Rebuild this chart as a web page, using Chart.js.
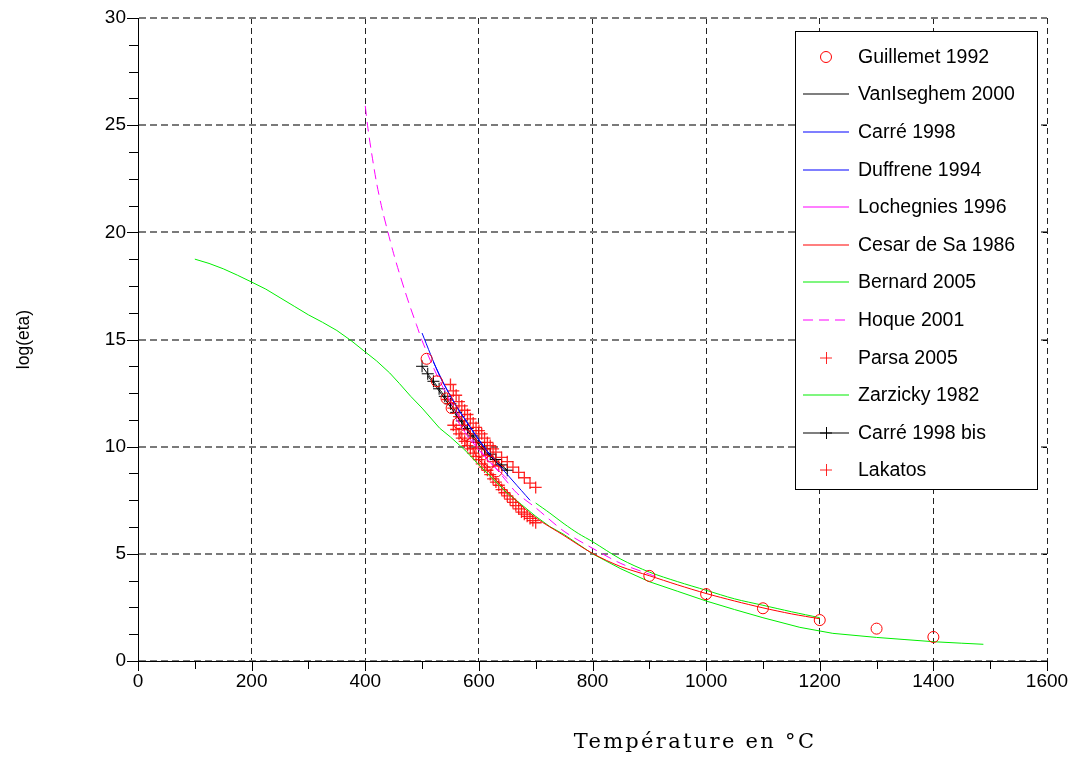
<!DOCTYPE html>
<html><head><meta charset="utf-8">
<script src="https://cdn.jsdelivr.net/npm/chart.js@4.4.1/dist/chart.umd.min.js"></script>
<style>html,body{margin:0;padding:0;background:#fff;}#c{display:block;}</style>
</head><body>
<canvas id="c" width="1070" height="760"></canvas>
<script>
// ---- data ----
const guillemetT = [508,526,543,552,564,576,587,602,620,631,900,1000,1100,1200,1300,1400];
const guillemetY = [14.1,13.05,12.25,11.8,11.1,10.55,10.15,9.75,9.3,8.85,3.97,3.12,2.46,1.91,1.51,1.12];

const vanIseghemT = [510,530,550,570,590,610,630,650];
const vanIseghemY = [13.3,12.6,11.85,11.1,10.4,9.8,9.3,8.85];

const carreT = [500,515,530,545,560,575,590,605,620,640,660,675,690];
const carreY = [15.3,14.3,13.35,12.6,11.9,11.3,10.7,10.15,9.6,9.0,8.4,7.95,7.5];

const duffreneT = [520,540,560,580,600,620,640];
const duffreneY = [13.95,12.85,11.9,11.1,10.3,9.6,9.0];

const lochegniesT = [560,580,600,620,640,650];
const lochegniesY = [11.3,10.5,9.85,9.25,8.75,8.5];

const cesarT = [600,625,650,675,700,750,800,850,900,950,1000,1050,1100,1150,1200];
const cesarY = [9.4,8.6,7.9,7.25,6.68,5.85,5.02,4.4,3.98,3.55,3.15,2.8,2.48,2.2,1.97];

const bernardT = [100,125,150,175,200,225,250,275,300,325,350,375,400,420,443,460,480,500,531,550,575,602,625,649,675,700,725,750,800,850,900,950,1000,1050,1100,1165,1223,1300,1350,1400,1450,1488];
const bernardY = [18.75,18.55,18.3,18.0,17.68,17.35,16.95,16.55,16.15,15.8,15.42,14.95,14.42,14.0,13.44,12.95,12.35,11.8,10.86,10.45,9.85,9.1,8.5,7.85,7.3,6.75,6.27,5.9,5.0,4.3,3.7,3.25,2.8,2.4,2.02,1.57,1.29,1.1,1.0,0.9,0.83,0.78];

const hoqueT = [400,404,410,420,430,440,450,460,470,480,490,500,525,550,575,600,620,650,667,700,750,800,850,900,920];
const hoqueY = [25.9,25.0,23.9,22.3,21.05,20.0,19.0,18.1,17.25,16.45,15.7,14.95,13.4,12.1,10.95,9.9,9.3,8.35,7.83,7.15,6.05,5.26,4.55,4.05,3.86];

const parsaT = [550,555,560,565,570,575,580,585,590,595,600,605,610,615,620,625,630,640,650,660,670,680,690,700,
                545,555,565,575,585,595,605,615,625,635];
const parsaY = [12.9,12.6,12.4,12.1,11.9,11.7,11.5,11.3,11.1,10.9,10.75,10.6,10.4,10.2,10.05,9.9,9.75,9.5,9.3,9.05,8.8,8.55,8.3,8.1,
                12.2,11.8,11.4,11.0,10.6,10.2,9.9,9.6,9.3,9.1];

const zarzickyT = [700,725,750,775,800,850,900,950,1000,1050,1100,1150,1200];
const zarzickyY = [7.37,6.9,6.4,5.95,5.57,4.75,4.15,3.7,3.3,2.9,2.6,2.3,2.02];

const carreBisT = [500,510,520,530,540,550,560,570,580,590,600,610,620,630,640,650];
const carreBisY = [13.75,13.4,13.05,12.7,12.35,12.0,11.6,11.2,10.85,10.5,10.2,9.9,9.65,9.4,9.15,8.9];

const lakatosT = [555,560,565,570,575,580,585,590,595,600,605,610,615,620,625,630,635,640,645,650,655,660,665,670,675,680,685,690,695,700];
const lakatosY = [11.0,10.8,10.6,10.4,10.25,10.05,9.9,9.7,9.55,9.4,9.2,9.05,8.9,8.7,8.5,8.35,8.2,8.0,7.85,7.7,7.55,7.4,7.25,7.1,6.95,6.85,6.75,6.65,6.55,6.45];

const xTickLabels = ['0','200','400','600','800','1000','1200','1400','1600'];
const yTickLabels = ['0','5','10','15','20','25','30'];

const legendLabels = ['Guillemet 1992','VanIseghem 2000','Carré 1998','Duffrene 1994','Lochegnies 1996','Cesar de Sa 1986','Bernard 2005','Hoque 2001','Parsa 2005','Zarzicky 1982','Carré 1998 bis','Lakatos'];

// ---- helpers ----
const pts = (T, Y) => T.map((t, i) => ({x: t, y: Y[i]}));
const RED = '#ff0000', BLUE = '#0000ff', MAG = '#ff00ff', GREEN = '#00ee00', BLACK = '#000000';

function lineDs(label, T, Y, color, extra) {
  return Object.assign({label, data: pts(T, Y), showLine: true, borderColor: color, backgroundColor: color,
    borderWidth: 1, pointRadius: 0, fill: false, tension: 0.3}, extra || {});
}
function markDs(label, T, Y, color, style, r, w) {
  return {label, data: pts(T, Y), showLine: false, borderColor: color, backgroundColor: 'rgba(0,0,0,0)',
    pointStyle: style, pointRadius: r, borderWidth: w || 1, pointBorderWidth: w || 1};
}

const datasets = [
  markDs(legendLabels[0], guillemetT, guillemetY, RED, 'circle', 5.5),
  lineDs(legendLabels[1], vanIseghemT, vanIseghemY, BLACK),
  lineDs(legendLabels[2], carreT, carreY, BLUE),
  lineDs(legendLabels[3], duffreneT, duffreneY, BLUE),
  lineDs(legendLabels[4], lochegniesT, lochegniesY, MAG),
  lineDs(legendLabels[5], cesarT, cesarY, RED),
  lineDs(legendLabels[6], bernardT, bernardY, GREEN, {tension: 0}),
  lineDs(legendLabels[7], hoqueT, hoqueY, MAG, {borderDash: [10, 6]}),
  markDs(legendLabels[8], parsaT, parsaY, 'rgba(255,0,0,0.85)', 'cross', 6, 1.3),
  lineDs(legendLabels[9], zarzickyT, zarzickyY, GREEN),
  lineDs(legendLabels[10], carreBisT, carreBisY, BLACK, {pointStyle: 'cross', pointRadius: 6, pointBorderWidth: 1, tension: 0.2}),
  markDs(legendLabels[11], lakatosT, lakatosY, 'rgba(255,0,0,0.85)', 'cross', 6, 1.3)
];

const FONT = '"Liberation Sans", Arial, sans-serif';

const tickMarks = {
  id: 'tickMarks',
  afterDraw(chart) {
    const {ctx, chartArea: a, scales: {x, y}} = chart;
    ctx.save();
    ctx.strokeStyle = '#000'; ctx.lineWidth = 1;
    ctx.beginPath();
    for (let v = x.min; v <= x.max; v += 100) {
      const px = Math.round(x.getPixelForValue(v)) + 0.5;
      const L = (v % 200 === 0) ? 10 : 8;
      ctx.moveTo(px, a.bottom); ctx.lineTo(px, a.bottom + L);
    }
    for (let v = y.min; v <= y.max + 1e-9; v += 1.25) {
      const py = Math.round(y.getPixelForValue(v)) + 0.5;
      const L = (Math.abs(v % 5) < 1e-9) ? 11 : 9;
      ctx.moveTo(a.left, py); ctx.lineTo(a.left - L, py);
    }
    for (let v = 5; v < y.max; v += 5) {
      const py = Math.round(y.getPixelForValue(v)) + 0.5;
      ctx.moveTo(a.right, py); ctx.lineTo(a.right - 4, py);
    }
    ctx.stroke();
    ctx.restore();
  }
};

const boxLegend = {
  id: 'boxLegend',
  afterDraw(chart) {
    const ctx = chart.ctx;
    const bx = 795, by = 31, bw = 242, bh = 458;
    ctx.save();
    ctx.fillStyle = '#fff';
    ctx.fillRect(bx, by, bw, bh);
    ctx.strokeStyle = '#000'; ctx.lineWidth = 1;
    ctx.strokeRect(bx + 0.5, by + 0.5, bw, bh);
    ctx.font = '19.5px ' + FONT;
    ctx.textBaseline = 'middle';
    ctx.textAlign = 'left';
    chart.data.datasets.forEach((ds, i) => {
      const cy = Math.round(56.7 + i * 37.6);
      const x0 = 803, x1 = 849, xc = 826;
      ctx.strokeStyle = ds.borderColor; ctx.lineWidth = 1.2;
      if (ds.showLine) {
        ctx.setLineDash(ds.borderDash || []);
        ctx.beginPath(); ctx.moveTo(x0, cy); ctx.lineTo(x1, cy); ctx.stroke();
        ctx.setLineDash([]);
      }
      ctx.lineWidth = 1;
      if (ds.pointStyle === 'circle') {
        ctx.beginPath(); ctx.arc(xc, cy, 5.5, 0, Math.PI * 2); ctx.stroke();
      } else if (ds.pointStyle === 'cross') {
        ctx.beginPath();
        ctx.moveTo(xc - 6, cy); ctx.lineTo(xc + 6, cy);
        ctx.moveTo(xc + 0.5, cy - 6); ctx.lineTo(xc + 0.5, cy + 6);
        ctx.stroke();
      }
      ctx.fillStyle = '#000';
      ctx.fillText(ds.label, 858, cy + 1);
    });
    ctx.restore();
  }
};

const xTitle = {
  id: 'xTitle',
  afterDraw(chart) {
    const ctx = chart.ctx;
    ctx.save();
    ctx.font = '21px "DejaVu Serif", "Liberation Serif", serif';
    try { ctx.letterSpacing = '2.3px'; } catch (e) {}
    ctx.fillStyle = '#000';
    ctx.textAlign = 'center';
    ctx.textBaseline = 'alphabetic';
    ctx.fillText('Température en °C', 695, 748);
    ctx.restore();
  }
};

new Chart(document.getElementById('c'), {
  type: 'scatter',
  data: {datasets},
  plugins: [tickMarks, boxLegend, xTitle],
  options: {
    responsive: false,
    animation: false,
    events: [],
    layout: {padding: {left: 0, top: 18, right: 23, bottom: 0}},
    plugins: {legend: {display: false}, tooltip: {enabled: false}},
    scales: {
      x: {
        type: 'linear', min: 0, max: 1600,
        afterFit: s => { s.height = 99; s.paddingLeft = 0; s.paddingRight = 0; },
        ticks: {stepSize: 200, padding: 9, color: '#000', font: {family: FONT, size: 19},
                callback: (v) => xTickLabels[Math.round(v / 200)] ?? ''},
        grid: {drawTicks: false, color: '#222', lineWidth: 1},
        border: {display: true, color: '#000', width: 1, dash: [6, 4]}
      },
      y: {
        type: 'linear', min: 0, max: 30,
        afterFit: s => { s.width = 138; s.paddingTop = 0; s.paddingBottom = 0; },
        ticks: {stepSize: 5, padding: 12, color: '#000', font: {family: FONT, size: 19},
                callback: (v) => yTickLabels[Math.round(v / 5)] ?? ''},
        grid: {drawTicks: false, color: '#7a7a7a', lineWidth: 2},
        border: {display: true, color: '#000', width: 1, dash: [7, 4]},
        title: {display: true, text: 'log(eta)', color: '#000', font: {family: FONT, size: 17.5}, padding: {top: 14, bottom: 0}}
      }
    }
  }
});
</script>
</body></html>
